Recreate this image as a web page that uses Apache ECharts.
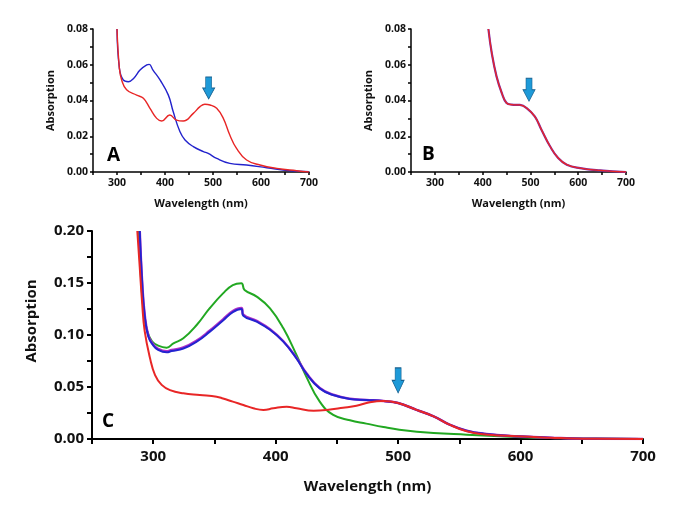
<!DOCTYPE html>
<html><head><meta charset="utf-8">
<script src="https://cdn.jsdelivr.net/npm/echarts@6/dist/echarts.min.js"></script>
<style>html,body{margin:0;padding:0;background:#fff}#c{width:700px;height:516px}</style>
</head><body><div id="c"></div>
<script>
// Panel A
const aRedX = [300,305,309.7,320,341,355,368.7,382.7,393,410,424,438,459,473,483,494,507.7,521.5,535,549,570,598,633,674,700];
const aRedY = [0.08,0.058,0.0515,0.046,0.043,0.0412,0.0356,0.030,0.0285,0.0319,0.029,0.0285,0.0328,0.0366,0.0379,0.0375,0.0356,0.030,0.0207,0.0132,0.0067,0.0039,0.002,0.0007,0.0];
const aBlueX = [300,305,313,323.6,335,348,362,367,375,389.6,407,417,431,441.7,459,480,490,507.7,535,570,612,660,700];
const aBlueY = [0.08,0.058,0.0515,0.0505,0.0525,0.057,0.0599,0.0602,0.057,0.0515,0.043,0.0338,0.0226,0.0179,0.0142,0.0114,0.0104,0.0076,0.0048,0.0039,0.0024,0.0007,0.0002];
// Panel B
const bX = [412,419,429,440,450,461,478,492,509,523,541,558,576,604,646,700];
const bY = [0.08,0.0666,0.0535,0.0442,0.0386,0.0377,0.0375,0.0358,0.0311,0.0237,0.0144,0.0078,0.0041,0.0022,0.0009,0.0];
// Panel C
const cGreenX = [288,290,292,295,299,304,311,316.5,324.6,335.5,346,357,365,372,374.6,384.5,395.4,406.3,417,425,436,447,460.7,474,488,501,529,556,583,610,651,700];
const cGreenY = [0.2,0.155,0.125,0.104,0.094,0.0898,0.0878,0.092,0.0968,0.1096,0.1256,0.140,0.148,0.1497,0.1433,0.1369,0.1256,0.1064,0.0808,0.060,0.0359,0.0231,0.018,0.0148,0.0115,0.009,0.0058,0.0042,0.0026,0.0013,0.0006,0.0];
const cBlueX = [289,291,293,296,300,304,311,315,324.6,335.5,346,357,365,372,373.6,384.5,395.4,406.3,417,425,436,447,460.7,474,488,500,515,529,542,556,570,597,624,651,700];
const cBlueY = [0.2,0.15,0.119,0.0985,0.090,0.0856,0.0833,0.0846,0.087,0.0936,0.103,0.114,0.122,0.125,0.1186,0.1128,0.105,0.0936,0.0776,0.063,0.0487,0.0423,0.0385,0.0375,0.0365,0.0346,0.028,0.0218,0.0138,0.008,0.0051,0.0026,0.0013,0.0003,0.0];
const cPurpleY = [0.2,0.15,0.12,0.0995,0.091,0.0866,0.0843,0.0856,0.088,0.0946,0.104,0.115,0.123,0.126,0.1196,0.1136,0.1056,0.094,0.078,0.0634,0.049,0.0425,0.0386,0.0375,0.0365,0.0346,0.028,0.0218,0.0138,0.008,0.0051,0.0026,0.0013,0.0003,0.0];
const cRedX = [287,289,291,293,297.4,301.5,306.9,313.7,324.6,338,351.8,357,365,373.6,381.8,390,398,409,417,431,441.6,455,466,477,488,500,515,529,542,556,570,597,624,651,700];
const cRedY = [0.2,0.165,0.13,0.104,0.0776,0.0615,0.052,0.047,0.0439,0.0423,0.0407,0.039,0.0359,0.0327,0.0295,0.0279,0.0295,0.031,0.0295,0.0272,0.0279,0.030,0.032,0.0353,0.0365,0.0346,0.028,0.0218,0.0138,0.0074,0.0045,0.0026,0.0013,0.0003,0.0];
const xTicks = [300,400,500,600,700];

const zip = (xs, ys) => xs.map((x, i) => [x, ys[i]]);
const FONT = 'Open Sans';
const arrowPath = 'path://M3,0 L9,0 L9,11 L12,11 L6,22 L0,11 L3,11 Z';

function xAxis(idx, big) {
  return {
    gridIndex: idx, type: 'value', min: 250, max: 700, interval: 50,
    name: 'Wavelength (nm)', nameLocation: 'middle', nameGap: big ? 40 : 26,
    nameTextStyle: {fontFamily: FONT, fontWeight: 'bold', fontSize: big ? 15 : 11, color: '#111'},
    axisLine: {show: true, lineStyle: {color: '#000', width: big ? 2 : 1.5}},
    axisTick: {show: true, length: big ? 5 : 3, lineStyle: {color: '#000', width: big ? 2 : 1.5}},
    axisLabel: {fontFamily: FONT, fontWeight: 'bold', fontSize: big ? 15 : 10.5, color: '#111', margin: big ? 10 : 6,
      formatter: v => xTicks.includes(v) ? String(v) : ''},
    splitLine: {show: false}
  };
}
function yAxis(idx, big) {
  return {
    gridIndex: idx, type: 'value', min: 0, max: big ? 0.2 : 0.08, interval: big ? 0.025 : 0.01,
    name: 'Absorption', nameLocation: 'middle', nameGap: big ? 53 : 37,
    nameTextStyle: {fontFamily: FONT, fontWeight: 'bold', fontSize: big ? 15 : 11, color: '#111',
      padding: big ? [0, 0, 0, 28] : 0},
    axisLine: {show: true, lineStyle: {color: '#000', width: big ? 2 : 1.5}},
    axisTick: {show: true, length: big ? 5 : 3, lineStyle: {color: '#000', width: big ? 2 : 1.5}},
    axisLabel: {fontFamily: FONT, fontWeight: 'bold', fontSize: big ? 15 : 10.5, color: '#111', margin: big ? 8 : 5,
      formatter: v => {
        const step = big ? 0.05 : 0.02;
        const r = Math.round(v / step * 1000) / 1000;
        return Math.abs(r - Math.round(r)) < 1e-6 ? v.toFixed(2) : '';
      }},
    splitLine: {show: false}
  };
}
function line(idx, data, color, w, mark) {
  const s = {type: 'line', xAxisIndex: idx, yAxisIndex: idx, data, showSymbol: false, symbol: 'none',
    smooth: 0.45, lineStyle: {color, width: w}, clip: true, z: 2, animation: false};
  if (mark) s.markPoint = {symbol: arrowPath, symbolSize: mark.size, silent: true, animation: false,
    itemStyle: {color: '#1e9ad8', borderColor: '#17608f', borderWidth: 0.8},
    label: {show: false}, data: [{coord: mark.coord}]};
  return s;
}

const chart = echarts.init(document.getElementById('c'), null, {renderer: 'canvas'});
chart.setOption({
  backgroundColor: '#fff',
  animation: false,
  grid: [
    {left: 93, top: 29, width: 216, height: 143},
    {left: 411, top: 29, width: 215, height: 143},
    {left: 92, top: 231, width: 551, height: 208}
  ],
  xAxis: [xAxis(0, false), xAxis(1, false), xAxis(2, true)],
  yAxis: [yAxis(0, false), yAxis(1, false), yAxis(2, true)],
  series: [
    line(0, zip(aBlueX, aBlueY), '#2323cc', 1.4),
    line(0, zip(aRedX, aRedY), '#e82626', 1.4, {coord: [491, 0.047], size: [12, 22]}),
    line(1, zip(bX, bY), '#7a2aa8', 2.2),
    line(1, zip(bX, bY), '#e82626', 1.3, {coord: [497, 0.046], size: [12, 23]}),
    line(2, zip(cGreenX, cGreenY), '#22a822', 2),
    line(2, zip(cBlueX, cPurpleY), '#b030c8', 2.5),
    line(2, zip(cBlueX, cBlueY), '#2323d0', 2),
    line(2, zip(cRedX, cRedY), '#e82626', 2, {coord: [500, 0.0563], size: [12, 25]})
  ],
  graphic: [
    {type: 'text', left: 107, top: 146, style: {text: 'A', font: 'bold 19px "Open Sans"', fill: '#000'}},
    {type: 'text', left: 422, top: 145, style: {text: 'B', font: 'bold 19px "Open Sans"', fill: '#000'}},
    {type: 'text', left: 102, top: 412, style: {text: 'C', font: 'bold 19px "Open Sans"', fill: '#000'}}
  ]
});
</script></body></html>
